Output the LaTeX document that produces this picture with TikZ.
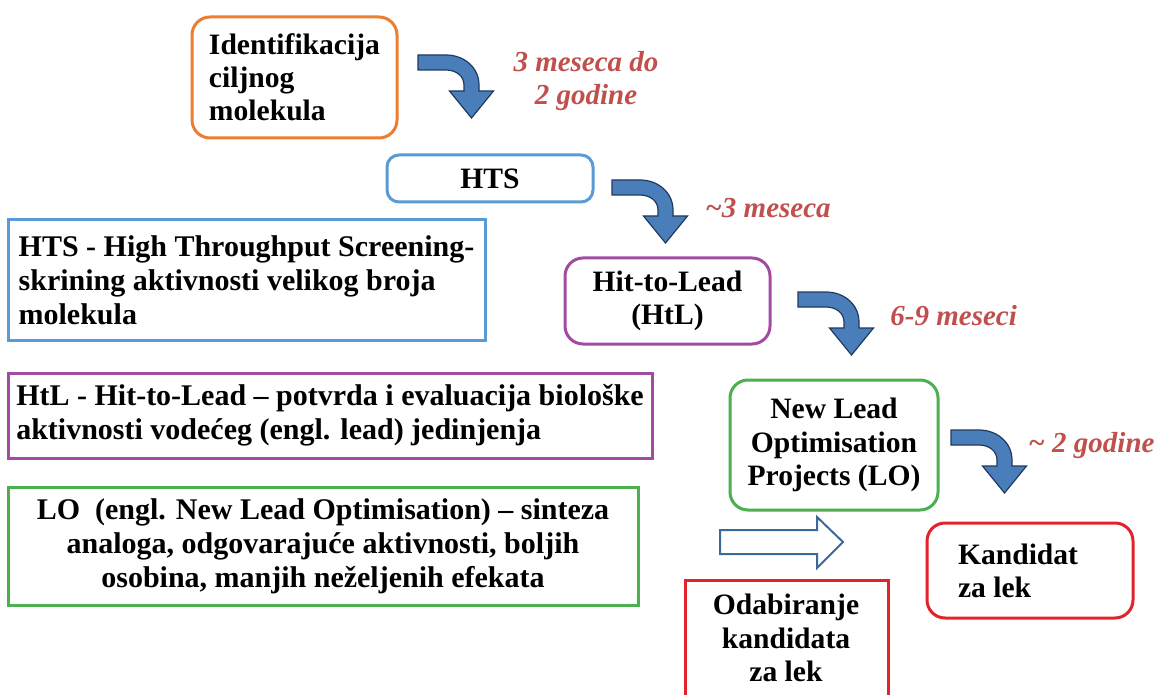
\documentclass[tikz,border=0pt]{standalone}
\usepackage{fontspec}
\setmainfont{LiberationSerif}[Extension=.ttf, UprightFont=*-Regular, BoldFont=*-Bold, ItalicFont=*-Italic, BoldItalicFont=*-BoldItalic]
\definecolor{boxorange}{HTML}{ED7D31}
\definecolor{boxblue}{HTML}{5B9BD5}
\definecolor{boxpurple}{HTML}{A24BA3}
\definecolor{boxgreen}{HTML}{4CAF50}
\definecolor{boxred}{HTML}{E3232B}
\definecolor{timered}{HTML}{C0504D}
\definecolor{arrowblue}{HTML}{4A7EBB}
\definecolor{arrowedge}{HTML}{1F3A5F}
\definecolor{outlineblue}{HTML}{3A6A9C}
\tikzset{bentarrow/.pic={
  \filldraw[fill=arrowblue, draw=arrowedge, line width=0.6pt, line join=miter]
    (0,0) -- (28,0) .. controls (46,0) and (61,12.5) .. (61,30) -- (61,36)
    -- (75.5,36) -- (53.5,63) -- (31.5,36) -- (46,36) -- (46,30)
    .. controls (46,21) and (38,15) .. (28,15) -- (0,15) -- cycle;
}}
\begin{document}
\begin{tikzpicture}[x=0.5pt, y=-0.5pt,
  stepbox/.style={draw, line width=1.5pt, rounded corners=9pt, inner sep=0pt,
    font=\bfseries\fontsize{14.8}{16.6}\selectfont},
  infobox/.style={draw, line width=1.5pt, inner sep=0pt,
    font=\bfseries\fontsize{15}{17}\selectfont},
  timelabel/.style={text=timered, inner sep=0pt,
    font=\bfseries\itshape\fontsize{14.5}{16.5}\selectfont}]
\useasboundingbox (0,0) rectangle (1156,695);
\fill[white] (0,0) rectangle (1156,695);
% steps
\node[stepbox, draw=boxorange, minimum width=102.5pt, minimum height=60.5pt, align=left] (ident) at (294.5,77.5) {Identifikacija\\ciljnog\\molekula};
\node[stepbox, draw=boxblue, rounded corners=6pt, minimum width=103pt, minimum height=23.5pt] (hts) at (490,178.5) {HTS};
\node[stepbox, draw=boxpurple, minimum width=102.5pt, minimum height=43pt, align=center] (htl) at (667.5,301) {Hit-to-Lead\\(HtL)};
\node[stepbox, draw=boxgreen, minimum width=104pt, minimum height=65pt, align=center] (lo) at (834,445) {New Lead\\Optimisation\\Projects (LO)};
\node[stepbox, draw=boxred, minimum width=103pt, minimum height=47.5pt, text width=72pt, align=flush left] (kand) at (1030,570.5) {Kandidat\\za lek};
\node[infobox, draw=boxred, minimum width=101.5pt, minimum height=65pt, anchor=north] (odabbox) at (786.5,579) {};
\node[font=\bfseries\fontsize{14.8}{16.6}\selectfont, align=center] (odab) at (786,638) {Odabiranje\\kandidata\\za lek};
% explanations
\node[infobox, draw=boxblue, minimum width=238.5pt, minimum height=60pt, align=left] (htsinfo) at (246.5,280) {HTS - High Throughput Screening-\\skrining aktivnosti velikog broja\\molekula};
\node[infobox, draw=boxpurple, minimum width=322pt, minimum height=42.5pt, align=left] (htlinfo) at (330,415.5) {HtL - Hit-to-Lead -- potvrda i evaluacija biološke\\aktivnosti vodećeg (engl. lead) jedinjenja};
\node[infobox, draw=boxgreen, minimum width=315pt, minimum height=59pt, align=center] (loinfo) at (323,546) {LO\ \ (engl. New Lead Optimisation) -- sinteza\\analoga, odgovarajuće aktivnosti, boljih\\osobina, manjih neželjenih efekata};
% durations
\node[timelabel, align=center] (t1) at (586,81) {3 meseca do\\2 godine};
\node[timelabel, anchor=west] (t2) at (705,208) {\textasciitilde3 meseca};
\node[timelabel, anchor=west] (t3) at (890,316) {6-9 meseci};
\node[timelabel, anchor=west] (t4) at (1028,446) {\textasciitilde{} 2 godine};
% arrows
\foreach \p in {(418,55),(612,180),(798,292),(951,430)} \pic at \p {bentarrow};
\draw[draw=outlineblue, fill=white, line width=1pt] (720,530) -- (817,530) -- (817,517) -- (843,542) -- (817,568) -- (817,554) -- (720,554) -- cycle;
\end{tikzpicture}
\end{document}
